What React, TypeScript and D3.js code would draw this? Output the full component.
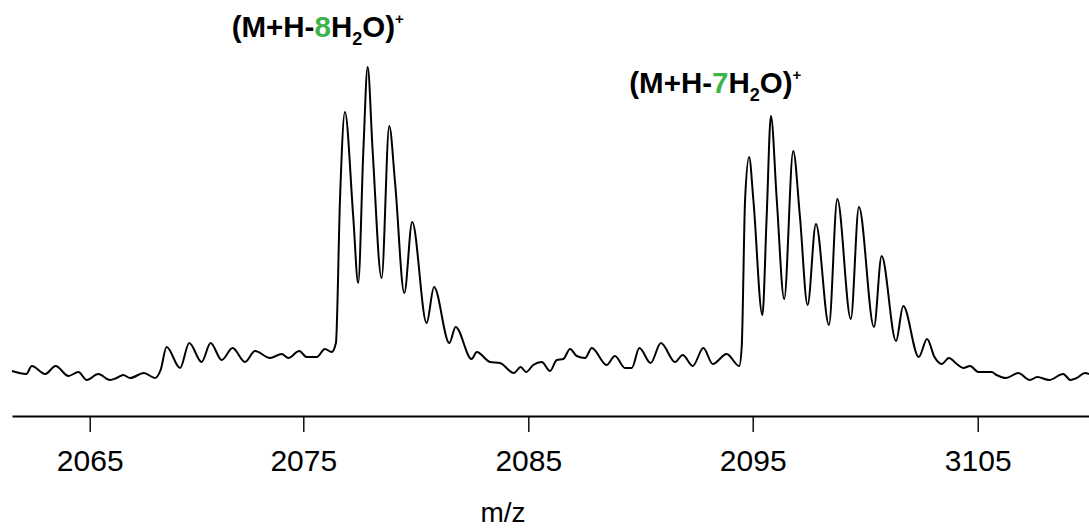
import React, { useEffect, useRef } from "react";
import * as d3 from "d3";

// m/z positions of the trace (peaks, valleys and shoulders)
const mzValues = [
  2061.35, 2062.02, 2062.28, 2062.91, 2063.4, 2064.0, 2064.47, 2064.86, 2065.4, 2065.95,
  2066.26, 2066.57, 2066.89, 2067.54, 2068.06, 2068.32, 2068.6, 2069.23, 2069.66, 2070.24,
  2070.66, 2071.18, 2071.69, 2072.27, 2072.74, 2073.44, 2073.99, 2074.3, 2074.81, 2075.15,
  2075.6, 2075.96, 2076.26, 2076.45, 2076.63, 2076.85, 2077.22, 2077.44, 2077.67, 2077.86,
  2078.08, 2078.48, 2078.82, 2079.08, 2079.49, 2079.84, 2080.48, 2080.81, 2081.49, 2081.77,
  2082.48, 2082.71, 2083.3, 2083.74, 2084.36, 2084.66, 2084.9, 2085.22, 2085.6, 2085.97,
  2086.27, 2086.56, 2086.86, 2087.16, 2087.53, 2087.83, 2088.49, 2088.86, 2089.31, 2089.61,
  2089.95, 2090.45, 2090.91, 2091.54, 2091.88, 2092.33, 2092.8, 2093.22, 2093.84, 2094.4,
  2094.51, 2094.66, 2094.84, 2095.03, 2095.43, 2095.62, 2095.81, 2096.07, 2096.4, 2096.8,
  2097.1, 2097.44, 2097.81, 2098.39, 2098.76, 2099.36, 2099.72, 2100.39, 2100.73, 2101.37,
  2101.69, 2102.38, 2102.75, 2103.08, 2103.4, 2103.72, 2104.07, 2104.36, 2104.66, 2105.03,
  2105.62, 2105.84, 2106.26, 2106.8, 2107.32, 2107.65, 2108.18, 2108.8, 2109.13, 2109.4,
  2109.77, 2109.95,
];

// relative intensity at each m/z above
const intensityValues = [
  9, 6, 14, 6, 14, 4, 8, 0, 6, 0,
  2, 5, 2, 7, 2, 10, 33, 12, 37, 18,
  37, 20, 32, 18, 29, 22, 26, 22, 29, 23,
  23, 31, 28, 37, 180, 268, 163, 97, 230, 313,
  230, 102, 254, 197, 87, 158, 57, 93, 37, 53,
  21, 28, 18, 17, 7, 13, 8, 15, 18, 9,
  20, 21, 31, 24, 22, 32, 15, 24, 12, 12,
  32, 17, 37, 18, 25, 14, 32, 16, 26, 14,
  33, 180, 223, 180, 65, 163, 264, 180, 81, 229,
  163, 75, 156, 55, 181, 61, 173, 53, 124, 39,
  74, 23, 41, 23, 16, 22, 16, 12, 14, 8,
  8, 5, 2, 7, 0, 3, 0, 6, 0, 2,
  7, 6,
];

// axis ticks (the last label reads 3105 in the original figure)
const tickValues = [2065, 2075, 2085, 2095, 2105];
const tickLabels = ["2065", "2075", "2085", "2095", "3105"];

// ion annotations: prefix, number of waters lost
const ionPrefixes = ["(M+H-", "(M+H-"];
const ionWaters = ["7", "8"];

export default function App() {
  const ref = useRef<SVGSVGElement>(null);

  useEffect(() => {
    const svg = d3.select(ref.current);
    svg.selectAll("*").remove();

    const font = "'Liberation Sans', Arial, Helvetica, sans-serif";

    // the printed axis is not perfectly even, so map each decade separately
    const x = d3
      .scaleLinear()
      .domain([2061.35, 2065, 2075, 2085, 2095, 2105, 2109.95])
      .range([12, 89.7, 303.3, 528.3, 752.7, 977.7, 1089]);

    const y = d3.scaleLinear().domain([0, 320]).range([380, 60]);

    const data = mzValues.map((m, i) => ({ mz: m, v: intensityValues[i] }));

    // spectrum trace
    const line = d3
      .line<{ mz: number; v: number }>()
      .x((d) => x(d.mz))
      .y((d) => y(d.v))
      .curve(d3.curveMonotoneX);

    svg
      .append("path")
      .datum(data)
      .attr("d", line)
      .attr("fill", "none")
      .attr("stroke", "#000")
      .attr("stroke-width", 2)
      .attr("stroke-linejoin", "round");

    // x axis
    const axis = d3
      .axisBottom(x)
      .tickValues(tickValues)
      .tickFormat((d, i) => tickLabels[i])
      .tickSizeOuter(0)
      .tickSizeInner(16)
      .tickPadding(18);

    const g = svg.append("g").attr("transform", "translate(0,416)").call(axis);
    g.select(".domain").attr("stroke", "#000").attr("stroke-width", 2);
    g.selectAll(".tick line").attr("stroke", "#000").attr("stroke-width", 1.4);
    g.selectAll(".tick text")
      .attr("fill", "#000")
      .style("font-family", font)
      .style("font-size", "30px");

    // axis title
    svg
      .append("text")
      .attr("x", 503)
      .attr("y", 522)
      .attr("text-anchor", "middle")
      .style("font-family", font)
      .style("font-size", "28px")
      .text("m/z");

    // ion labels, placed at the left edge of each text
    const labelPos = [
      { x: 629.3, y: 93.3 },
      { x: 231.7, y: 37 },
    ];
    ionPrefixes.forEach((pre, i) => {
      const t = svg
        .append("text")
        .attr("x", labelPos[i].x)
        .attr("y", labelPos[i].y)
        .style("font-family", font)
        .style("font-size", "29.5px")
        .style("font-weight", "bold")
        .attr("fill", "#000");
      t.append("tspan").text(pre);
      t.append("tspan").attr("fill", "#3cb44b").text(ionWaters[i]);
      t.append("tspan").text("H");
      t.append("tspan").attr("dy", 8).style("font-size", "18px").text("2");
      t.append("tspan").attr("dy", -8).text("O)");
      t.append("tspan").attr("dy", -13).style("font-size", "15px").text("+");
    });
  }, []);

  return (
    <svg
      ref={ref}
      width={1089}
      height={531}
      style={{ position: "absolute", left: 0, top: 0, background: "#fff" }}
    />
  );
}
